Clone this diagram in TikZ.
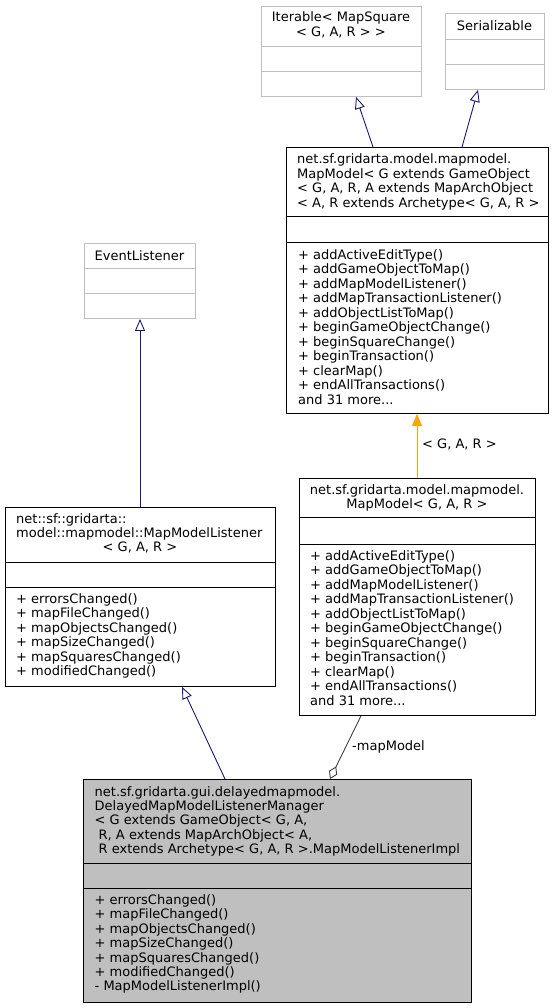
\documentclass[tikz,border=0pt]{standalone}
\usepackage{fontspec}
\setmainfont{DejaVu Sans}
\usetikzlibrary{arrows.meta,calc}
\definecolor{edgeblue}{HTML}{191970}
\definecolor{extgray}{HTML}{BFBFBF}
\definecolor{hlfill}{HTML}{BFBFBF}
\definecolor{usegray}{HTML}{404040}
\definecolor{tmplorange}{HTML}{FFA500}
\tikzset{
  cls/.style={draw=black, line width=0.9pt, fill=white, inner sep=0pt, anchor=north west},
  extcls/.style={cls, draw=extgray},
  hlcls/.style={cls, fill=hlfill},
  sepline/.style={line width=0.9pt, draw=black},
  extsep/.style={line width=0.9pt, draw=extgray},
  txt/.style={inner sep=0pt, font=\fontsize{13}{14.4}\selectfont},
  inherit/.style={draw=edgeblue, line width=0.9pt, -{Triangle[open, length=12pt, width=10pt]}},
  tmplarrow/.style={draw=tmplorange, line width=0.9pt, -{Triangle[length=12pt, width=10pt]}},
  aggr/.style={draw=usegray, line width=0.9pt, -{Diamond[open, length=14pt, width=9pt]}},
}
\begin{document}
\begin{tikzpicture}[x=1pt, y=-1pt]
\useasboundingbox (0,0) rectangle (554,1008);

% ---------- Iterable ----------
\node[extcls, minimum width=160pt, minimum height=90pt] (iter) at (261,6) {};
\draw[extsep] (261,46) -- (421,46);
\draw[extsep] (261,71) -- (421,71);
\node[txt, anchor=base] (iter-t1) at (341,22) {Iterable< MapSquare};
\node[txt, anchor=base] (iter-t2) at (341,36.4) {< G, A, R > >};

% ---------- Serializable ----------
\node[extcls, minimum width=99pt, minimum height=76pt] (ser) at (445,13) {};
\draw[extsep] (445,39) -- (544,39);
\draw[extsep] (445,64) -- (544,64);
\node[txt, anchor=base] (ser-t1) at (494.5,30.5) {Serializable};

% ---------- MapModel (generic) ----------
\node[cls, minimum width=262pt, minimum height=266pt] (mm) at (286,147) {};
\draw[sepline] (286,216) -- (548,216);
\draw[sepline] (286,242) -- (548,242);
\foreach \t [count=\i from 0] in {net.sf.gridarta.model.mapmodel.,
  MapModel< G extends GameObject,
  {< G, A, R, A extends MapArchObject},
  {< A, R extends Archetype< G, A, R >}}
  \node[txt, anchor=base west] (mm-t\i) at (297,164+14.4*\i) {\t};
\foreach \t [count=\i from 0] in {+ addActiveEditType(), + addGameObjectToMap(),
  + addMapModelListener(), + addMapTransactionListener(), + addObjectListToMap(),
  + beginGameObjectChange(), + beginSquareChange(), + beginTransaction(),
  + clearMap(), + endAllTransactions()}
  \node[txt, anchor=base west] (mm-m\i) at (298,259+14.5*\i) {\t};
\node[txt, anchor=base west] (mm-more) at (298,259+14.5*10) {and 31 more...};

% ---------- EventListener ----------
\node[extcls, minimum width=111pt, minimum height=75pt] (el) at (84,243) {};
\draw[extsep] (84,268) -- (195,268);
\draw[extsep] (84,293) -- (195,293);
\node[txt, anchor=base] (el-t1) at (139.5,260) {EventListener};

% ---------- MapModelListener ----------
\node[cls, minimum width=270pt, minimum height=179pt] (mml) at (5,507) {};
\draw[sepline] (5,562) -- (275,562);
\draw[sepline] (5,587) -- (275,587);
\node[txt, anchor=base west] (mml-t0) at (16,523) {net::sf::gridarta::};
\node[txt, anchor=base west] (mml-t1) at (16,537.4) {model::mapmodel::MapModelListener};
\node[txt, anchor=base] (mml-t2) at (140,551.8) {< G, A, R >};
\foreach \t [count=\i from 0] in {+ errorsChanged(), + mapFileChanged(),
  + mapObjectsChanged(), + mapSizeChanged(), + mapSquaresChanged(),
  + modifiedChanged()}
  \node[txt, anchor=base west] (mml-m\i) at (16,603.5+14.4*\i) {\t};

% ---------- MapModel< G, A, R > ----------
\node[cls, minimum width=236pt, minimum height=237pt] (mm2) at (299,478) {};
\draw[sepline] (299,517) -- (535,517);
\draw[sepline] (299,544) -- (535,544);
\node[txt, anchor=base] (mm2-t0) at (417,494.5) {net.sf.gridarta.model.mapmodel.};
\node[txt, anchor=base] (mm2-t1) at (417,508.9) {MapModel< G, A, R >};
\foreach \t [count=\i from 0] in {+ addActiveEditType(), + addGameObjectToMap(),
  + addMapModelListener(), + addMapTransactionListener(), + addObjectListToMap(),
  + beginGameObjectChange(), + beginSquareChange(), + beginTransaction(),
  + clearMap(), + endAllTransactions()}
  \node[txt, anchor=base west] (mm2-m\i) at (310,560+14.5*\i) {\t};
\node[txt, anchor=base west] (mm2-more) at (310,560+14.5*10) {and 31 more...};

% ---------- DelayedMapModelListenerManager.MapModelListenerImpl ----------
\node[hlcls, minimum width=388pt, minimum height=223pt] (dm) at (83,779) {};
\draw[sepline] (83,863) -- (471,863);
\draw[sepline] (83,888) -- (471,888);
\node[txt, anchor=base west] (dm-t0) at (94.5,796) {net.sf.gridarta.gui.delayedmapmodel.};
\node[txt, anchor=base west] (dm-t1) at (94.5,810.4) {DelayedMapModelListenerManager};
\node[txt, anchor=base west] (dm-t2) at (94.5,824.8) {< G extends GameObject< G, A,};
\node[txt, anchor=base west] (dm-t3) at (98.5,839.2) {R, A extends MapArchObject< A,};
\node[txt, anchor=base west] (dm-t4) at (98.5,853.6) {R extends Archetype< G, A, R >.MapModelListenerImpl};
\foreach \t [count=\i from 0] in {+ errorsChanged(), + mapFileChanged(),
  + mapObjectsChanged(), + mapSizeChanged(), + mapSquaresChanged(),
  + modifiedChanged(), - MapModelListenerImpl()}
  \node[txt, anchor=base west] (dm-m\i) at (94.5,904.5+14.4*\i) {\t};

% ---------- connectors ----------
\draw[inherit] ($(mm.north west)+(87,0)$) -- ($(iter.south west)+(95,0)$);
\draw[inherit] ($(mm.north west)+(176,0)$) -- ($(ser.south west)+(33,0)$);
\draw[inherit] ($(mml.north west)+(135,0)$) -- ($(el.south west)+(56,0)$);
\draw[tmplarrow] ($(mm2.north west)+(118,0)$) -- ($(mm.south west)+(131,0)$);
\node[txt, anchor=west] (tmpl-lbl) at (422,444) {< G, A, R >};
\draw[inherit] ($(dm.north west)+(142,0)$) -- ($(mml.south west)+(177,0)$);
\draw[aggr] ($(mm2.south west)+(62,0)$) -- ($(dm.north west)+(247,0)$);
\node[txt, anchor=west] (aggr-lbl) at (352,747) {-mapModel};

\end{tikzpicture}
\end{document}
